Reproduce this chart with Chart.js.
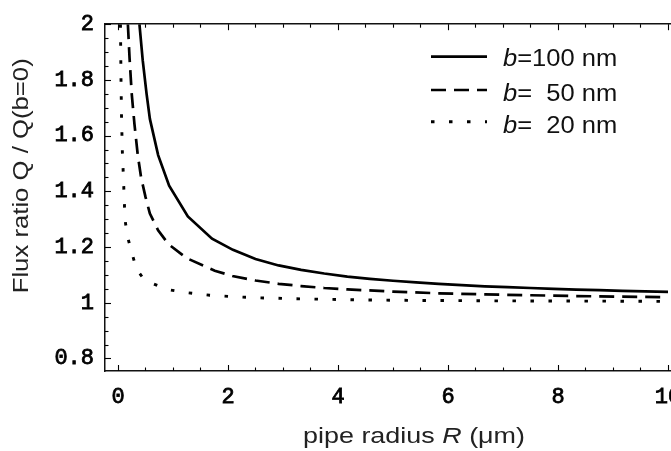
<!DOCTYPE html>
<html><head><meta charset="utf-8">
<script src="https://cdn.jsdelivr.net/npm/chart.js@4.4.1/dist/chart.umd.min.js"></script>
<style>
html,body{margin:0;padding:0;background:#fff;overflow:hidden;width:671px;height:451px}
#wrap{position:relative;width:740px;height:451px}
canvas{display:block}
</style></head><body>
<div id="wrap"><canvas id="c" width="740" height="451"></canvas></div>
<script>
// pipe radius R (µm) and flux ratio for each slip length b
const radius100 = [0.39,0.45,0.52,0.58,0.73,0.93,1.27,1.71,2.09,2.5,2.92,3.33,3.75,4.17,4.58,5.0,5.42,5.83,6.25,6.67,7.08,7.5,7.92,8.33,8.75,9.17,9.58,10];
const ratio100  = [2.00,1.87,1.75,1.66,1.53,1.42,1.31,1.23,1.19,1.157,1.134,1.118,1.105,1.094,1.086,1.079,1.073,1.068,1.063,1.059,1.056,1.053,1.050,1.047,1.045,1.043,1.041,1.039];

const radius50 = [0.18,0.21,0.25,0.30,0.36,0.42,0.5,0.58,0.73,0.92,1.25,1.76,2.08,2.5,2.92,3.33,3.75,4.17,5.0,5.83,6.67,7.5,8.33,9.17,10];
const ratio50  = [2.00,1.88,1.75,1.64,1.53,1.45,1.38,1.32,1.26,1.21,1.16,1.115,1.096,1.08,1.068,1.06,1.053,1.048,1.04,1.034,1.03,1.027,1.024,1.022,1.02];

const radius20 = [0.045,0.055,0.065,0.08,0.097,0.127,0.17,0.25,0.34,0.45,0.58,0.89,1.18,1.67,2.08,2.5,3.33,4.17,5.0,6.67,8.33,10];
const ratio20  = [2.00,1.80,1.66,1.54,1.46,1.30,1.24,1.18,1.12,1.09,1.073,1.048,1.038,1.027,1.022,1.018,1.014,1.011,1.009,1.007,1.006,1.005];

const xTickValues = [0,2,4,6,8,10];
const yTickValues = [0.8,1,1.2,1.4,1.6,1.8,2];
const legendValues = ['100','  50','  20'];

const xTitleParts = ['pipe radius ', 'R', ' (\u03bcm)'];
const yTitle = 'Flux ratio Q / Q(b=0)';

function pts(xs, ys){ return xs.map((v,i)=>({x:v, y:ys[i]})); }

const SANS = '"Liberation Sans", Arial, Helvetica, sans-serif';
const MONO = '"Liberation Mono", "Courier New", monospace';

const decor = {
  id: 'decor',
  afterDraw(chart){
    const ctx = chart.ctx, a = chart.chartArea, xs = chart.scales.x, ys = chart.scales.y;
    ctx.save();
    // inward frame ticks
    ctx.strokeStyle = '#000'; ctx.lineWidth = 1.1;
    const line=(x1,y1,x2,y2)=>{ctx.beginPath();ctx.moveTo(x1,y1);ctx.lineTo(x2,y2);ctx.stroke();};
    for (let k = 0; k <= 22; k++) {
      const v = k*0.5; if (v < xs.min || v > xs.max) continue;
      const px = Math.round(xs.getPixelForValue(v)) + 0.5;
      const L = (k % 4 === 0) ? 6 : 3.5;
      line(px, a.bottom, px, a.bottom - L);
      line(px, a.top, px, a.top + L);
    }
    for (let k = 16; k <= 40; k++) {
      const v = k*0.05; if (v < ys.min - 1e-9 || v > ys.max + 1e-9) continue;
      const py = Math.round(ys.getPixelForValue(v)) + 0.5;
      const L = (k % 4 === 0) ? 6 : 3.5;
      line(a.left, py, a.left + L, py);
    }
    // x title
    ctx.fillStyle = '#222';
    ctx.textBaseline = 'alphabetic';
    const fN = '22.5px ' + SANS, fI = 'italic 22.5px ' + SANS;
    const fonts = [fN, fI, fN];
    let w = 0; const ws = [];
    xTitleParts.forEach((p,i)=>{ ctx.font = fonts[i]; const m = ctx.measureText(p).width; ws.push(m); w += m; });
    let sx = 222 / w;
    ctx.save(); ctx.translate(414 - 111, 442.5); ctx.scale(sx, 1);
    let cx = 0;
    xTitleParts.forEach((p,i)=>{ ctx.font = fonts[i]; ctx.fillText(p, cx, 0); cx += ws[i]; });
    ctx.restore();
    // y title
    ctx.font = fN;
    const yw = ctx.measureText(yTitle).width;
    ctx.save(); ctx.translate(27.5, 175.8); ctx.rotate(-Math.PI/2); ctx.scale(235 / yw, 1);
    ctx.textAlign = 'center'; ctx.fillText(yTitle, 0, 0);
    ctx.restore();
    // legend
    const rowsLine = [56.7, 90, 121.7], rowsText = [65.7, 100.5, 132.5];
    chart.data.datasets.forEach((ds, i) => {
      ctx.save();
      ctx.strokeStyle = ds.borderColor; ctx.lineWidth = ds.borderWidth; ctx.lineCap = 'butt';
      ctx.setLineDash(ds.borderDash || []);
      ctx.beginPath(); ctx.moveTo(431, rowsLine[i]); ctx.lineTo(487, rowsLine[i]); ctx.stroke();
      ctx.restore();
      ctx.save(); ctx.fillStyle = '#111';
      ctx.translate(503, rowsText[i]); ctx.scale(1.11, 1);
      ctx.font = 'italic 23px ' + SANS; ctx.fillText('b', 0, 0);
      const bw = ctx.measureText('b').width;
      ctx.font = '23px ' + SANS; ctx.fillText('=' + legendValues[i] + ' nm', bw, 0);
      ctx.restore();
    });
    ctx.restore();
  }
};

const tickFont = { family: MONO, size: 22 };

new Chart(document.getElementById('c'), {
  type: 'line',
  data: { datasets: [
    { label: 'b=100 nm', data: pts(radius100, ratio100), borderColor: '#000', borderWidth: 2.7, borderDash: [], pointRadius: 0, tension: 0, borderCapStyle: 'butt', fill: false },
    { label: 'b=50 nm',  data: pts(radius50, ratio50),  borderColor: '#000', borderWidth: 2.7, borderDash: [15, 8], pointRadius: 0, tension: 0, borderCapStyle: 'butt', fill: false },
    { label: 'b=20 nm',  data: pts(radius20, ratio20),  borderColor: '#000', borderWidth: 2.9, borderDash: [3.5, 14.5], pointRadius: 0, tension: 0, borderCapStyle: 'butt', fill: false }
  ]},
  options: {
    responsive: false, animation: false, devicePixelRatio: 1,
    layout: { padding: { top: 15, right: 17, left: 0, bottom: 0 } },
    plugins: { legend: { display: false }, tooltip: { enabled: false } },
    scales: {
      x: { type: 'linear', position: 'bottom', min: -0.236, max: 11,
        afterBuildTicks: s => { s.ticks = xTickValues.map(v => ({ value: v })); },
        afterFit: s => { s.height = 80; },
        grid: { display: true, drawOnChartArea: false, drawTicks: false },
        border: { display: true, color: '#111', width: 1.5 },
        ticks: { autoSkip: false, maxRotation: 0, padding: 13, color: '#000', textStrokeColor: '#000', textStrokeWidth: 0.8, font: tickFont, callback: v => String(v) } },
      x2: { type: 'linear', position: 'top', min: -0.236, max: 11,
        afterFit: s => { s.height = 0; },
        grid: { display: true, drawOnChartArea: false, drawTicks: false },
        border: { display: true, color: '#111', width: 1.5 },
        ticks: { display: false } },
      y: { type: 'linear', min: 0.755, max: 2,
        afterBuildTicks: s => { s.ticks = yTickValues.map(v => ({ value: v })); },
        afterFit: s => { s.width = 105; },
        grid: { display: true, drawOnChartArea: false, drawTicks: false },
        border: { display: true, color: '#111', width: 1.5 },
        ticks: { autoSkip: false, padding: 11, color: '#000', textStrokeColor: '#000', textStrokeWidth: 0.8, font: tickFont, callback: v => String(v) } }
    }
  },
  plugins: [decor]
});
</script>
</body></html>
